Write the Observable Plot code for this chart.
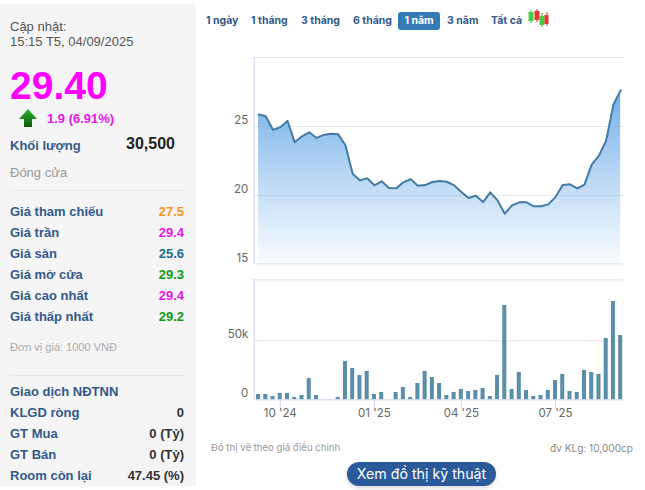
<!DOCTYPE html>
<html lang="vi"><head><meta charset="utf-8">
<script src="https://cdn.jsdelivr.net/npm/d3@7"></script>
<script src="https://cdn.jsdelivr.net/npm/@observablehq/plot@0.6"></script>
<style>
html,body{margin:0;padding:0;background:#fff;width:645px;height:490px;overflow:hidden}
#page{position:relative;width:645px;height:490px;font-family:"Liberation Sans",Arial,sans-serif}
#side{position:absolute;left:0;top:4px;width:196px;height:482px;background:#f5f5f5}
.t{position:absolute;white-space:nowrap;line-height:16px;transform:translateY(-7px)}
.lab{left:10px;font-size:13px;font-weight:bold;color:#33598c}
.val{right:461px;font-size:13px;font-weight:bold}
.hr{position:absolute;left:9px;width:175px;height:1px;background:#ebebeb}
.tab{position:absolute;top:20px;transform:translateY(-7px);font:bold 10.5px/16px Inter,sans-serif;color:#33598c;white-space:nowrap}
.chart{position:absolute;left:200px}
.chart svg{display:block}
#btn{position:absolute;left:347px;top:462px;width:149px;height:24px;border-radius:12px;background:#2b5a9b;color:#fff;font:14.2px/24px Inter,sans-serif;text-align:center;box-shadow:0 2px 4px rgba(0,0,0,.15)}
</style></head><body><div id="page">
<div id="side"></div>
<div id="price" class="chart" style="top:50px"></div>
<div id="volume" class="chart" style="top:270px"></div>
<div class="t" style="left:211px;top:447px;font:9.6px/16px Inter,sans-serif;color:#9a9a9a">Đồ thị vẽ theo giá điều chỉnh</div>
<div class="t" style="right:12px;top:447px;font:10.1px/16px Inter,sans-serif;color:#8a8a8a">đv KLg: 10,000cp</div>
<div id="btn">Xem đồ thị kỹ thuật</div>
</div>
<script>
const prices = [25.87,25.75,24.76,24.95,25.41,23.86,24.3,24.59,24.18,24.4,24.49,24.44,23.65,21.57,21.11,21.26,20.75,21.04,20.56,20.53,20.97,21.2,20.72,20.77,20.99,21.06,21.01,20.75,20.27,19.83,20,19.54,20.24,19.66,18.7,19.3,19.52,19.52,19.23,19.23,19.37,19.9,20.77,20.82,20.53,20.8,22.25,22.9,24.0,26.6,27.63];
const volumes = [4500,4500,2800,5400,5400,2000,3700,18000,3700,0,0,2000,32500,26500,20600,24000,4500,6200,0,6200,10500,2000,13800,24000,18900,13800,3700,6200,8800,7000,7900,9600,2800,20600,80000,8800,23200,7900,2800,3700,7900,16400,21500,7000,6200,24900,23200,21500,52000,83300,54500];
const tickSessions = [3,16,28,41];
const tickLabels = ["10 '24","01 '25","04 '25","07 '25"];
const priceTicks = [15,20,25];
const volumeTicks = [0,50000];
const sideRows = [
 ["Giá tham chiếu","27.5","#f7941d",211],["Giá trần","29.4","#e815e8",232],["Giá sàn","25.6","#1c6a96",253],
 ["Giá mở cửa","29.3","#0f9a12",274],["Giá cao nhất","29.4","#e815e8",295],["Giá thấp nhất","29.2","#0f9a12",316],
 ["Giao dịch NĐTNN","","#333",391],["KLGD ròng","0","#333",412],["GT Mua","0 (Tỷ)","#333",433],["GT Bán","0 (Tỷ)","#333",454],["Room còn lại","47.45 (%)","#333",475]];
const tabs = [["1 ngày",206],["1 tháng",251],["3 tháng",301],["6 tháng",353],["3 năm",447],["Tất cả",491]];

const page = document.getElementById("page");
function add(html){page.insertAdjacentHTML("beforeend",html);}
add(`<div class="t" style="left:10px;top:26px;font-size:13px;color:#555">Cập nhật:</div>`);
add(`<div class="t" style="left:10px;top:41px;font-size:13px;color:#555">15:15 T5, 04/09/2025</div>`);
add(`<div class="t" style="left:10px;top:86px;font-size:39px;line-height:44px;transform:translateY(-22px);font-weight:bold;color:#f0f">29.40</div>`);
add(`<svg style="position:absolute;left:19px;top:109px" width="18" height="19" viewBox="0 0 18 19"><defs><linearGradient id="ar" x1="0" x2="0" y1="0" y2="1"><stop offset="0" stop-color="#2fb52f"/><stop offset="1" stop-color="#0a5a0a"/></linearGradient></defs><path d="M9 0L18 10H13V18H5V10H0Z" fill="url(#ar)"/></svg>`);
add(`<div class="t" style="left:47px;top:118px;font-size:13px;font-weight:bold;color:#e815e8">1.9 (6.91%)</div>`);
add(`<div class="t lab" style="top:145px">Khối lượng</div>`);
add(`<div class="t" style="right:470px;top:143px;font-size:16px;font-weight:bold;color:#222">30,500</div>`);
add(`<div class="t" style="left:10px;top:172px;font-size:13px;color:#999">Đóng cửa</div>`);
add(`<div class="hr" style="top:190px"></div><div class="hr" style="top:375px"></div>`);
add(`<div class="t" style="left:10px;top:346px;font-size:11px;color:#aaa">Đơn vị giá: 1000 VNĐ</div>`);
for (const [l,v,c,y] of sideRows){
  add(`<div class="t lab" style="top:${y}px">${l}</div>`);
  if(v) add(`<div class="t val" style="top:${y}px;color:${c}">${v}</div>`);
}
for (const [l,x] of tabs) add(`<div class="tab" style="left:${x}px">${l}</div>`);
add(`<div style="position:absolute;left:398px;top:12px;width:42px;height:18px;border-radius:3px;background:#337ab7;color:#fff;font:bold 10.5px/18px Inter,sans-serif;text-align:center">1 năm</div>`);
add(`<svg style="position:absolute;left:527px;top:9px" width="22" height="19"><g stroke-width="1"><path d="M4 1V14" stroke="#3a3"/><rect x="1.5" y="3" width="5" height="9" fill="#4c4"/><path d="M10 0V13" stroke="#c33"/><rect x="7.5" y="2" width="5" height="9" fill="#e33"/><path d="M15 4V18" stroke="#3a3"/><rect x="12.5" y="7" width="5" height="9" fill="#4c4"/><path d="M20 3V17" stroke="#c33"/><rect x="17.5" y="6" width="4" height="9" fill="#e33"/></g></svg>`);

const priceData = prices.map((p,i)=>({i,p}));
const volData = volumes.map((v,i)=>({i,v}));
const xDomain = [-0.6,50.43];
const font = "Inter, sans-serif";
const labelFill = "#666";

const gradient = () => {
  const d = d3.create("svg:defs");
  const g = d.append("linearGradient").attr("id","areaFill").attr("x1",0).attr("x2",0).attr("y1",0).attr("y2",1);
  g.append("stop").attr("offset","0").attr("stop-color","#6aa9e6").attr("stop-opacity",0.95);
  g.append("stop").attr("offset","1").attr("stop-color","#7cb5ec").attr("stop-opacity",0.04);
  return d.node();
};

const pricePlot = Plot.plot({
  width:445,height:220,marginLeft:53.7,marginRight:21.7,marginTop:7,marginBottom:5.7,
  style:{fontFamily:font,background:"transparent"},
  x:{domain:xDomain,axis:null},
  y:{domain:[15,30],axis:null},
  marks:[
    gradient,
    Plot.ruleY([20,25,30],{stroke:"#e6e6e6",strokeWidth:1}),
    Plot.ruleY([15],{stroke:"#e6e6e6",strokeWidth:1,dy:-1}),
    Plot.ruleX([xDomain[0]],{stroke:"#ccd6eb",strokeWidth:1}),
    Plot.areaY(priceData,{x:"i",y1:15,y2:"p",fill:"url(#areaFill)"}),
    Plot.line(priceData,{x:"i",y:"p",stroke:"#427ba6",strokeWidth:2}),
    Plot.text(priceTicks,{x:xDomain[0],y:d=>d,text:d=>String(d),dx:-6,dy:-6,textAnchor:"end",fill:labelFill,fontSize:11.5})
  ]
});
document.getElementById("price").append(pricePlot);

const volPlot = Plot.plot({
  width:445,height:150,marginLeft:53.7,marginRight:21.7,marginTop:9.3,marginBottom:20.7,
  style:{fontFamily:font,background:"transparent"},
  x:{domain:xDomain,axis:null},
  y:{domain:[0,101700],axis:null},
  marks:[
    Plot.ruleY([50000,101700],{stroke:"#e6e6e6",strokeWidth:1}),
    Plot.ruleX([xDomain[0]],{stroke:"#ccd6eb",strokeWidth:1}),
    Plot.rectY(volData,{x1:d=>d.i-0.5,x2:d=>d.i+0.5,y:"v",insetLeft:1.6,insetRight:1.6,fill:"#5b8ea9"}),
    Plot.ruleY([0],{stroke:"#ccd6eb",strokeWidth:1}),
    Plot.ruleX(tickSessions,{x:d=>d,y1:0,y2:-7600,stroke:"#ccd6eb",strokeWidth:1}),
    Plot.text(tickSessions,{x:d=>d,frameAnchor:"bottom",text:(d,i)=>tickLabels[i],dy:17,fill:labelFill,fontSize:11.5}),
    Plot.text(volumeTicks,{x:xDomain[0],y:d=>d,text:d=>d?d/1000+"k":"0",dx:-6,dy:-6,textAnchor:"end",fill:labelFill,fontSize:11.5})
  ]
});
document.getElementById("volume").append(volPlot);
</script></body></html>
